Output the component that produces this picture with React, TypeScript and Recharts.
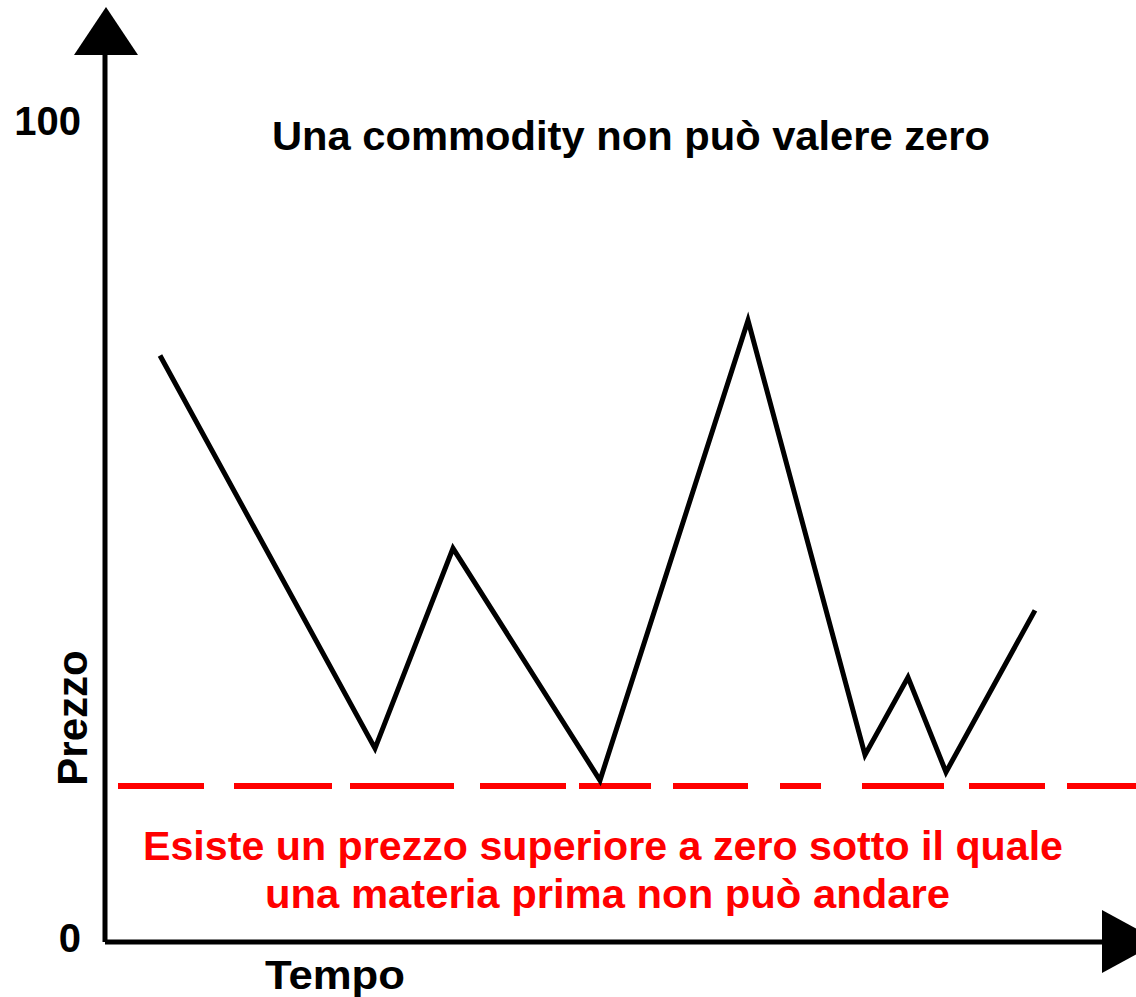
import { LineChart, Line, XAxis, YAxis, ReferenceLine, Customized } from "recharts";

// tempo (x) e prezzo (y)
const times = [5.5, 27, 34.8, 49.5, 64.3, 76, 80.3, 84.1, 93];
const prices = [71.8, 23.7, 48.2, 19.8, 76.1, 22.9, 32.4, 20.8, 40.6];
const yTicks = [0, 100];
const floorPrice = 19.1;

const title = "Una commodity non può valere zero";
const noteLines = ["Esiste un prezzo superiore a zero sotto il quale", "una materia prima non può andare"];
const xLabel = "Tempo";
const yLabel = "Prezzo";

const data = times.map((t, i) => ({ t, price: prices[i] }));

const font = "'Liberation Sans', Arial, sans-serif";
const red = "#ff0000";

const YTick = ({ x, y, payload }: any) => (
  <text x={x} y={y} dy={10} textAnchor="end" fontFamily={font} fontWeight="bold" fontSize={40} fill="#000">
    {payload.value}
  </text>
);

const Decor = () => (
  <g fontFamily={font} fontWeight="bold" fontSize={40}>
    <polygon points="74,55 138,55 106,7" fill="#000" />
    <polygon points="1102,910 1102,973 1160,941.5" fill="#000" />
    <text x={272} y={150} textLength={718} lengthAdjust="spacingAndGlyphs" fill="#000">{title}</text>
    <text x={143} y={860} textLength={920} lengthAdjust="spacingAndGlyphs" fill={red}>{noteLines[0]}</text>
    <text x={265} y={908} textLength={685} lengthAdjust="spacingAndGlyphs" fill={red}>{noteLines[1]}</text>
    <text x={265} y={989} textLength={140} lengthAdjust="spacingAndGlyphs" fill="#000">{xLabel}</text>
    <text x={87} y={718} textAnchor="middle" fill="#000" fontSize={42} transform="rotate(-90 87 718)">{yLabel}</text>
  </g>
);

export default function App() {
  return (
    <div style={{ position: "absolute", left: 0, top: 0, background: "#fff" }}>
      <LineChart width={1136} height={997} data={data} margin={{ top: 55, right: 0, bottom: 54, left: 0 }}>
        <XAxis
          type="number"
          dataKey="t"
          domain={[0, 103.1]}
          tick={false}
          tickLine={false}
          height={1}
          axisLine={{ stroke: "#000", strokeWidth: 5 }}
        />
        <YAxis
          type="number"
          domain={[0, 108.6]}
          ticks={yTicks}
          width={105}
          tickLine={false}
          tickSize={0}
          tickMargin={24}
          tick={<YTick />}
          axisLine={{ stroke: "#000", strokeWidth: 5 }}
        />
        <ReferenceLine
          y={floorPrice}
          stroke={red}
          strokeWidth={6}
          strokeDasharray="0 13 86 30 98 18 104 26 86 13 72 22 75 32 41 41 82 25 76 22 100"
        />
        <Line
          type="linear"
          dataKey="price"
          stroke="#000"
          strokeWidth={5}
          dot={false}
          isAnimationActive={false}
        />
        <Customized component={Decor} />
      </LineChart>
    </div>
  );
}
